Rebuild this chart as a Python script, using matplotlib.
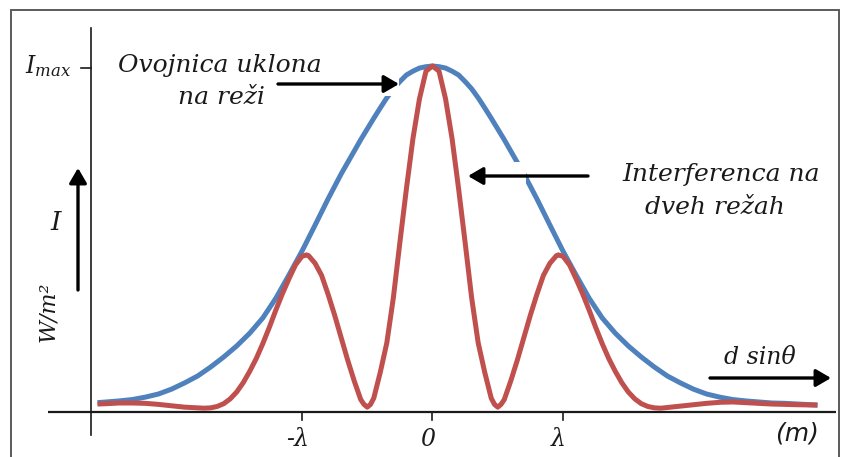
import matplotlib
matplotlib.use('Agg')
import matplotlib.pyplot as plt
from matplotlib.patches import Rectangle

# ---- data (x in units of lambda, intensity relative to Imax)
envelope_x = [-2.567, -2.5, -2.4, -2.3, -2.2, -2.1, -2.0, -1.9, -1.8, -1.7, -1.6, -1.5,
              -1.4, -1.3, -1.2, -1.1, -1.0, -0.9, -0.8, -0.7, -0.6, -0.55, -0.5, -0.45,
              -0.4, -0.35, -0.3, -0.25, -0.2, -0.15, -0.1, -0.05, 0.0, 0.05, 0.1, 0.15,
              0.2, 0.25, 0.3, 0.35, 0.4, 0.45, 0.5, 0.55, 0.6, 0.7, 0.8, 0.9, 1.0, 1.1,
              1.2, 1.3, 1.4, 1.5, 1.6, 1.7, 1.8, 1.9, 2.0, 2.1, 2.2, 2.3, 2.4, 2.5, 2.6,
              2.7, 2.8, 2.95]
envelope_y = [0.027, 0.029, 0.032, 0.036, 0.043, 0.052, 0.066, 0.084, 0.104, 0.130,
              0.159, 0.191, 0.228, 0.272, 0.329, 0.396, 0.465, 0.540, 0.616, 0.688,
              0.754, 0.787, 0.818, 0.849, 0.879, 0.908, 0.934, 0.955, 0.974, 0.985,
              0.994, 0.998, 1.0, 0.998, 0.994, 0.985, 0.974, 0.955, 0.934, 0.908, 0.879,
              0.849, 0.818, 0.787, 0.754, 0.688, 0.616, 0.540, 0.465, 0.396, 0.329,
              0.272, 0.228, 0.191, 0.159, 0.130, 0.104, 0.084, 0.066, 0.052, 0.043,
              0.036, 0.032, 0.029, 0.026, 0.025, 0.023, 0.020]

interference_x = [-2.567, -2.5, -2.4, -2.3, -2.2, -2.1, -2.0, -1.9, -1.8, -1.75, -1.7,
                  -1.65, -1.6, -1.55, -1.5, -1.45, -1.4, -1.35, -1.3, -1.25, -1.2, -1.15,
                  -1.1, -1.05, -1.0, -0.965, -0.95, -0.9, -0.85, -0.8, -0.75, -0.7, -0.65,
                  -0.6, -0.55, -0.525, -0.5, -0.475, -0.45, -0.4, -0.35, -0.3, -0.25,
                  -0.2, -0.15, -0.1, -0.05, 0.0, 0.05, 0.1, 0.15, 0.2, 0.25, 0.3, 0.35,
                  0.4, 0.45, 0.475, 0.5, 0.525, 0.55, 0.6, 0.65, 0.7, 0.75, 0.8, 0.85,
                  0.9, 0.95, 0.965, 1.0, 1.05, 1.1, 1.15, 1.2, 1.25, 1.3, 1.35, 1.4, 1.45,
                  1.5, 1.55, 1.6, 1.65, 1.7, 1.75, 1.8, 1.9, 2.0, 2.1, 2.2, 2.3, 2.4, 2.5,
                  2.6, 2.7, 2.8, 2.95]
interference_y = [0.023, 0.024, 0.026, 0.026, 0.025, 0.022, 0.018, 0.014, 0.012, 0.011,
                  0.012, 0.016, 0.024, 0.038, 0.058, 0.085, 0.118, 0.155, 0.198, 0.245,
                  0.295, 0.342, 0.385, 0.425, 0.450, 0.454, 0.452, 0.430, 0.395, 0.340,
                  0.280, 0.215, 0.150, 0.090, 0.036, 0.022, 0.014, 0.022, 0.040, 0.115,
                  0.200, 0.330, 0.490, 0.645, 0.790, 0.905, 0.985, 1.0, 0.985, 0.905,
                  0.790, 0.645, 0.490, 0.330, 0.200, 0.115, 0.040, 0.022, 0.014, 0.022,
                  0.036, 0.090, 0.150, 0.215, 0.280, 0.340, 0.395, 0.430, 0.452, 0.454,
                  0.450, 0.425, 0.385, 0.342, 0.295, 0.245, 0.198, 0.155, 0.118, 0.085,
                  0.058, 0.038, 0.024, 0.016, 0.012, 0.011, 0.013, 0.017, 0.021, 0.025,
                  0.028, 0.029, 0.027, 0.025, 0.023, 0.022, 0.021, 0.020]

tick_values = [-1, 0, 1]
tick_labels = ['-λ', '0', 'λ']

BLUE = '#4F81BD'
RED = '#C0504D'
INK = '#1a1a1a'

W, H = 843, 457
fig = plt.figure(figsize=(W / 100, H / 100), dpi=100)
fig.patch.set_facecolor('white')
ax = fig.add_axes([0, 0, 1, 1])

X0, SX = 432.5, 130.5
Y0, SY = 412.0, 346.0


def dx(px):
    return (px - X0) / SX


def dy(py):
    return (Y0 - py) / SY


ax.set_xlim(dx(0), dx(W))
ax.set_ylim(dy(H), dy(0))
ax.axis('off')

# outer frame
ax.add_patch(Rectangle((dx(11), dy(470)), dx(839) - dx(11), dy(10) - dy(470),
                       fill=False, edgecolor='#5a5a5a', lw=1.4, zorder=1))

# axes lines
ax.plot([dx(48), dx(836)], [0, 0], color=INK, lw=1.6, zorder=2, solid_capstyle='butt')
ax.plot([dx(91), dx(91)], [dy(435), dy(28)], color=INK, lw=1.2, zorder=2)
ax.plot([dx(81), dx(91)], [dy(68), dy(68)], color=INK, lw=1.2, zorder=2)
for t in tick_values:
    ax.plot([t, t], [0, dy(420)], color=INK, lw=1.2, zorder=2)

# curves
ax.plot(envelope_x, envelope_y, color=BLUE, lw=3.6, zorder=3,
        solid_joinstyle='round', solid_capstyle='butt')
# white boxes behind arrows (cut the blue line like in the reference)
ax.add_patch(Rectangle((dx(385), dy(96)), dx(399) - dx(385), dy(76) - dy(96),
                       facecolor='white', edgecolor='none', zorder=4))
ax.add_patch(Rectangle((dx(466), dy(190)), dx(526) - dx(466), dy(162) - dy(190),
                       facecolor='white', edgecolor='none', zorder=4))
ax.plot(interference_x, interference_y, color=RED, lw=3.6, zorder=5,
        solid_joinstyle='round', solid_capstyle='butt')

# tick labels
for t, lab in zip(tick_values, tick_labels):
    ax.text(t - dx(437) + dx(432.5), dy(440), lab, ha='center', va='center',
            fontsize=17, family='DejaVu Serif', style='italic', color=INK)
ax.text(dx(797), dy(434), '(m)', ha='center', va='center', fontsize=18,
        family='DejaVu Sans', style='italic', color=INK)

# labels
serif = dict(family='DejaVu Serif', style='italic', color=INK)
plt.rcParams['mathtext.fontset'] = 'dejavuserif'
ax.text(dx(25), dy(66), r'$I_{max}$', ha='left', va='center', fontsize=17, color=INK)
ax.text(dx(220), dy(65), 'Ovojnica uklona', ha='center', va='center', fontsize=18, **serif)
ax.text(dx(221), dy(98), 'na reži', ha='center', va='center', fontsize=18, **serif)
ax.text(dx(721), dy(174), 'Interferenca na', ha='center', va='center', fontsize=18, **serif)
ax.text(dx(715), dy(208), 'dveh režah', ha='center', va='center', fontsize=18, **serif)
ax.text(dx(56), dy(223), 'I', ha='center', va='center', fontsize=19, **serif)
ax.text(dx(48), dy(312), 'W/m²', ha='center', va='center', fontsize=16,
        rotation=90, **serif)
ax.text(dx(760), dy(357), 'd sinθ', ha='center', va='center', fontsize=17, **serif)

# arrows
aprops = dict(arrowstyle='-|>,head_length=0.6,head_width=0.35', lw=2.4, color='black',
              shrinkA=0, shrinkB=0, mutation_scale=15)
arrows = [((278, 84), (399, 84)), ((588, 176), (468, 176)),
          ((78, 290), (78, 168)), ((710, 378), (831, 378))]
for (x1, y1), (x2, y2) in arrows:
    ax.annotate('', xy=(dx(x2), dy(y2)), xytext=(dx(x1), dy(y1)),
                arrowprops=aprops, zorder=6)

fig.savefig('out.png', dpi=100, facecolor='white')
